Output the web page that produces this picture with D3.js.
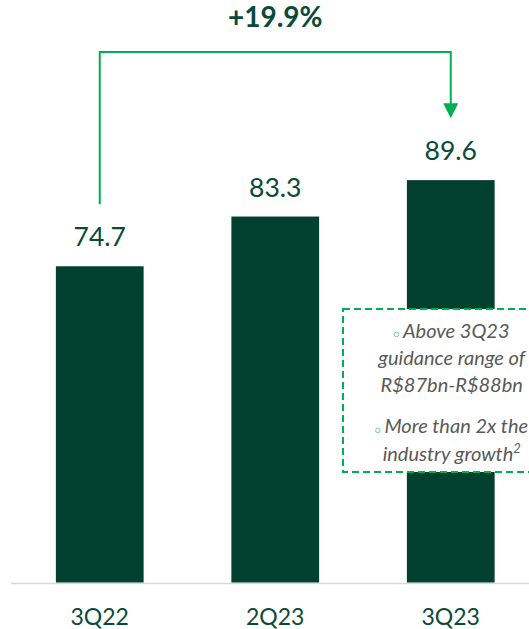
<!DOCTYPE html>
<html>
<head>
<meta charset="utf-8">
<script src="https://cdn.jsdelivr.net/npm/d3@7"></script>
<style>
  html, body { margin: 0; padding: 0; background: #fff; overflow: hidden; }
  svg { display: block; }
</style>
</head>
<body>
<svg id="chart" width="529" height="629"></svg>
<script>
// Quarterly totals (R$ bn)
const categories = ["3Q22", "2Q23", "3Q23"];
const values = [74.7, 83.3, 89.6];
const growthLabel = "+19.9%";
const noteBullets = [
  ["Above 3Q23", "guidance range of", "R$87bn-R$88bn"],
  ["More than 2x the", "industry growth"]
];

const W = 529, H = 629;
const barColor = "#03412F";
const textColor = "#0B4A39";
const accent = "#00B050";
const font = "Lato, 'Open Sans', sans-serif";

const svg = d3.select("#chart");

const x = d3.scaleBand()
  .domain(categories)
  .range([12, 538.5])
  .paddingInner(0.5)
  .paddingOuter(0.25);

const y = d3.scaleLinear()
  .domain([20, 100])
  .range([582.5, 120]);

// baseline
svg.append("line")
  .attr("x1", 11).attr("x2", W)
  .attr("y1", 583.5).attr("y2", 583.5)
  .attr("stroke", "#D9D9D9").attr("stroke-width", 1.5);

// bars
svg.selectAll("rect.bar")
  .data(values)
  .join("rect")
  .attr("class", "bar")
  .attr("x", (d, i) => x(categories[i]))
  .attr("width", x.bandwidth())
  .attr("y", d => y(d))
  .attr("height", d => y.range()[0] - y(d))
  .attr("fill", barColor);

// value labels
svg.selectAll("text.val")
  .data(values)
  .join("text")
  .attr("class", "val")
  .attr("x", (d, i) => x(categories[i]) + x.bandwidth() / 2)
  .attr("y", d => y(d) - 20)
  .attr("text-anchor", "middle")
  .attr("font-family", font)
  .attr("font-size", 26.5)
  .attr("fill", textColor)
  .text(d => d.toFixed(1));

// category axis
const xAxis = svg.append("g")
  .attr("transform", "translate(0,625)")
  .call(d3.axisBottom(x).tickSize(0).tickPadding(0));
xAxis.select(".domain").remove();
xAxis.selectAll("text")
  .attr("dy", 0)
  .attr("y", 0)
  .attr("font-family", font)
  .attr("font-size", 23)
  .attr("fill", textColor);

// growth bracket
const cx0 = x(categories[0]) + x.bandwidth() / 2;
const cx2 = x(categories[2]) + x.bandwidth() / 2;
const yStart = y(values[0]) - 62;
const yTip = y(values[2]) - 62;
const yTop = 52;
const head = 15;

svg.append("path")
  .attr("d", `M${cx0},${yStart} V${yTop} H${cx2} V${yTip - head + 1}`)
  .attr("fill", "none")
  .attr("stroke", accent)
  .attr("stroke-width", 2);

svg.append("path")
  .attr("d", `M${cx2 - 7.5},${yTip - head} L${cx2 + 7.5},${yTip - head} L${cx2},${yTip} Z`)
  .attr("fill", accent);

svg.append("text")
  .attr("x", (cx0 + cx2) / 2)
  .attr("y", 27)
  .attr("text-anchor", "middle")
  .attr("font-family", font)
  .attr("font-weight", 700)
  .attr("font-size", 28)
  .attr("fill", textColor)
  .text(growthLabel);

// note box over the last bar (runs past the right edge)
const boxCx = cx2 + 1;
svg.append("rect")
  .attr("x", 343).attr("y", 309)
  .attr("width", 240).attr("height", 163)
  .attr("fill", "#fff")
  .attr("stroke", accent)
  .attr("stroke-width", 2)
  .attr("stroke-dasharray", "7,4");

const lineH = 27.2;
let baseY = 337.5;
noteBullets.forEach((lines, bi) => {
  lines.forEach((ln, li) => {
    const t = svg.append("text")
      .attr("y", baseY + li * lineH)
      .attr("font-family", font)
      .attr("font-style", "italic")
      .attr("font-size", 20)
      .attr("fill", "#595959");
    t.append("tspan").text(ln);
    if (bi === 1 && li === lines.length - 1) {
      t.append("tspan")
        .attr("font-size", 13)
        .attr("dy", -8)
        .text("2");
    }
    const w = t.node().getComputedTextLength();
    if (li === 0) {
      const total = 9 + w;
      const start = boxCx - total / 2;
      t.attr("x", start + 9);
      svg.append("circle")
        .attr("cx", start + 2.5)
        .attr("cy", baseY + li * lineH - 3)
        .attr("r", 2.3)
        .attr("fill", "none")
        .attr("stroke", "#6FD49A")
        .attr("stroke-width", 1);
    } else {
      t.attr("x", boxCx - w / 2);
    }
  });
  baseY += (lines.length - 1) * lineH + 41.5;
});
</script>
</body>
</html>
